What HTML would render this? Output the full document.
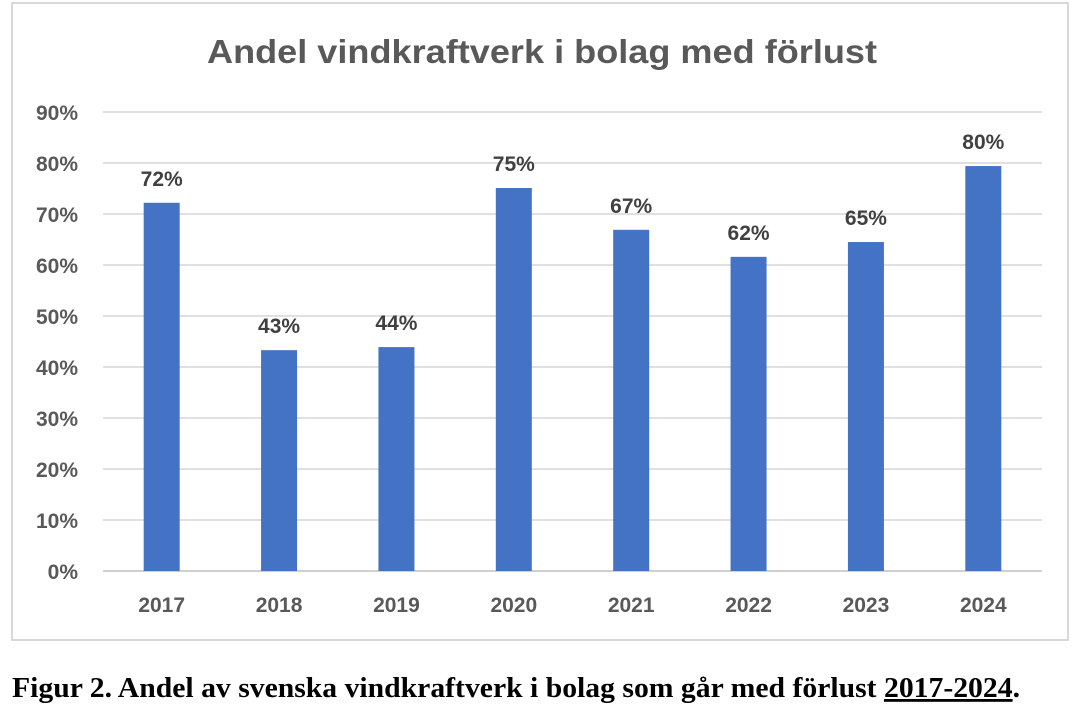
<!DOCTYPE html>
<html><head><meta charset="utf-8"><style>
body{margin:0;background:#fff;width:1080px;height:718px;overflow:hidden}
svg{position:absolute;left:0;top:0}
text{font-family:"Liberation Sans",sans-serif}
</style></head><body>
<svg id="c" width="1080" height="718">
<rect x="12" y="3" width="1056" height="637" fill="#fff" stroke="#d9d9d9" stroke-width="2"/>
<text x="207" y="63" textLength="670" lengthAdjust="spacingAndGlyphs" font-size="33" font-weight="bold" fill="#595959">Andel vindkraftverk i bolag med förlust</text>
<g id="grid"></g><g id="bars"></g>
<text x="12" y="697" textLength="1008" lengthAdjust="spacingAndGlyphs" font-size="28" font-weight="bold" fill="#000" style="font-family:'Liberation Serif',serif">Figur 2. Andel av svenska vindkraftverk i bolag som går med förlust <tspan text-decoration="underline">2017-2024</tspan>.</text>
</svg>
<script>
const categories=["2017","2018","2019","2020","2021","2022","2023","2024"];
const values=[72.2,43.3,43.9,75.1,66.9,61.6,64.5,79.4];
const labels=["72%","43%","44%","75%","67%","62%","65%","80%"];
const ticks=[0,10,20,30,40,50,60,70,80,90];
const NS="http://www.w3.org/2000/svg";
const x0=103,x1=1042,y0=571,y90=112;
const y=v=>y0-(v/90)*(y0-y90);
const bw=(x1-x0)/categories.length;
const xc=i=>x0+bw*(i+0.5);
function mk(t,a,p){const e=document.createElementNS(NS,t);for(const k in a)e.setAttribute(k,a[k]);p.appendChild(e);return e;}
const g=document.getElementById('grid'),b=document.getElementById('bars');
ticks.forEach(t=>{
 const l=mk('line',{x1:x0,x2:x1,y1:y(t),y2:y(t),stroke:t===0?'#d0d0d0':'#e0e0e0','stroke-width':2},g);
 
 
 const tx=mk('text',{x:78,y:y(t)+8,'text-anchor':'end','font-size':21,'font-weight':'bold',fill:'#595959'},g);
 tx.textContent=t+'%';
 
 
});
categories.forEach((c,i)=>{
 const r=mk('rect',{x:xc(i)-18,y:y(values[i]),width:36,height:y0-y(values[i]),fill:'#4472c4'},b);
 
 
 const lt=mk('text',{x:xc(i),y:y(values[i])-17,'text-anchor':'middle','font-size':21,'font-weight':'bold',fill:'#404040'},b);
 lt.textContent=labels[i];
 
 
 const xt=mk('text',{x:xc(i),y:612,'text-anchor':'middle','font-size':21,'font-weight':'bold',fill:'#595959'},b);
 xt.textContent=c;
 
 
});
</script>
</body></html>
